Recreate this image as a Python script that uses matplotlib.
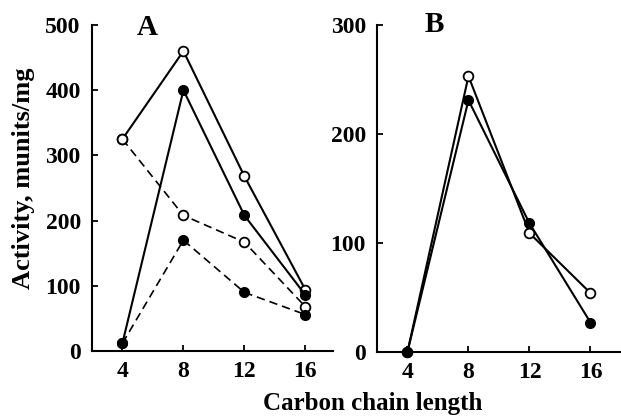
import matplotlib
matplotlib.use("Agg")
import matplotlib.pyplot as plt

plt.rcParams['font.family'] = ['Liberation Serif', 'DejaVu Serif']
plt.rcParams['font.weight'] = 'bold'

# chain lengths
chain = [4, 8, 12, 16]

# panel A
a_open_solid = [325, 460, 268, 94]
a_filled_solid = [12, 400, 208, 86]
a_open_dashed = [325, 208, 167, 68]
a_filled_dashed = [12, 170, 90, 56]

# panel B
b_open = [0, 253, 109, 54]
b_filled = [0, 231, 118, 27]

fig = plt.figure(figsize=(6.21, 4.16), dpi=100)
axA = fig.add_axes([0.148, 0.156, 0.388, 0.784])
axB = fig.add_axes([0.607, 0.154, 0.393, 0.786])

lw = 1.5
ms = 7


def style(ax, ymax, yticks):
    ax.set_xlim(2, 17.8 if ax is axA else 18)
    ax.set_ylim(0, ymax)
    ax.set_xticks(chain)
    ax.set_yticks(yticks)
    for s in ['top', 'right']:
        ax.spines[s].set_visible(False)
    for s in ['left', 'bottom']:
        ax.spines[s].set_linewidth(1.5)
    ax.tick_params(direction='in', length=4, width=1.3, labelsize=17)
    ax.tick_params(axis='x', pad=7)
    ax.tick_params(axis='y', pad=8)
    for lab in ax.get_xticklabels() + ax.get_yticklabels():
        lab.set_fontweight('bold')


# panel A lines
axA.plot(chain, a_open_solid, '-', color='black', lw=lw, marker='o', ms=ms,
         mfc='white', mec='black', mew=1.3, clip_on=False, zorder=3)
axA.plot(chain, a_filled_solid, '-', color='black', lw=lw, marker='o', ms=ms,
         mfc='black', mec='black', clip_on=False, zorder=3)
axA.plot(chain, a_open_dashed, '--', color='black', lw=1.2, marker='o', ms=ms,
         mfc='white', mec='black', mew=1.3, dashes=(5, 3), clip_on=False, zorder=3)
axA.plot(chain, a_filled_dashed, '--', color='black', lw=1.2, marker='o', ms=ms,
         mfc='black', mec='black', dashes=(5, 3), clip_on=False, zorder=3)
style(axA, 500, [0, 100, 200, 300, 400, 500])
axA.text(5.6, 496, 'A', fontsize=21, fontweight='bold', ha='center', va='center')

# panel B lines
axB.plot(chain, b_open, '-', color='black', lw=lw, marker='o', ms=ms,
         mfc='white', mec='black', mew=1.3, clip_on=False, zorder=3)
axB.plot(chain, b_filled, '-', color='black', lw=lw, marker='o', ms=ms,
         mfc='black', mec='black', clip_on=False, zorder=3)
style(axB, 300, [0, 100, 200, 300])
axB.text(5.75, 300, 'B', fontsize=21, fontweight='bold', ha='center', va='center')

fig.text(24 / 621, 1 - 178 / 416, 'Activity, munits/mg', rotation=90,
         ha='center', va='center', fontsize=19, fontweight='bold')
fig.text(373 / 621, 6 / 416, 'Carbon chain length', ha='center', va='baseline',
         fontsize=18, fontweight='bold')

fig.savefig('out.png', dpi=100)
